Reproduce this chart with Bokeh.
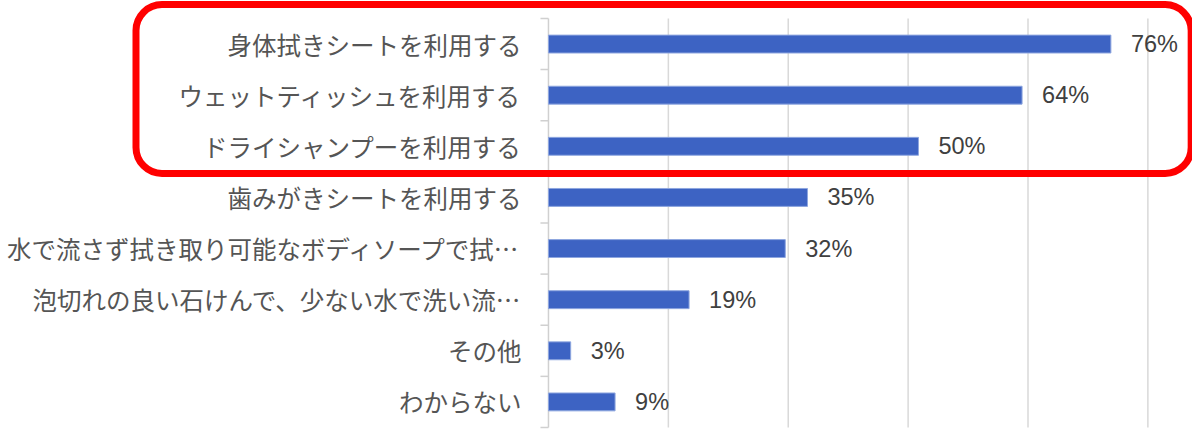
import numpy as np
from bokeh.plotting import figure
from bokeh.models import Range1d, BoxAnnotation, ColumnDataSource
from bokeh.core.properties import value
from bokeh.embed import file_html
from bokeh.resources import INLINE

# ---- data ----
categories = [
    "身体拭きシートを利用する",
    "ウェットティッシュを利用する",
    "ドライシャンプーを利用する",
    "歯みがきシートを利用する",
    "水で流さず拭き取り可能なボディソープで拭…",
    "泡切れの良い石けんで、少ない水で洗い流…",
    "その他",
    "わからない",
]
percent = [76, 64, 50, 35, 32, 19, 3, 9]
grid_ticks = [16.2, 32.4, 48.6, 64.8, 81.0]
highlight_rows = 3

# ---- layout ----
W, H = 1192, 432
n = len(categories)
rows = np.arange(n) + 0.5
bounds = np.arange(n + 1)

src = ColumnDataSource(dict(
    y=rows,
    v=percent,
    cat=categories,
    lab=[f"{v}%" for v in percent],
))

p = figure(width=W, height=H, output_backend="svg", toolbar_location=None,
           x_range=Range1d(-74.05, 87.03), y_range=Range1d(8.098, -0.352),
           min_border=0, outline_line_color=None)
p.axis.visible = False
p.grid.visible = False
p.background_fill_color = "white"
p.border_fill_color = "white"

# gridlines
p.segment(x0=grid_ticks, x1=grid_ticks, y0=0, y1=n, line_color="#D9D9D9", line_width=1.5)
# category axis line and boundary ticks
p.segment(x0=[0], x1=[0], y0=[0], y1=[n], line_color="#D0D0D0", line_width=1.5)
p.ray(x=0, y=bounds, length=8, angle=np.pi, length_units="screen",
      line_color="#D0D0D0", line_width=1.5)

# bars
p.hbar(y="y", left=0, right="v", height=0.35, source=src,
       fill_color="#3D63C3", line_color="#8EA6DF", line_width=1)

# category labels
p.text(x=0, y="y", text="cat", source=src, x_offset=-27,
       text_align="right", text_baseline="middle",
       text_font=value("Noto Sans CJK JP"), text_font_size="24.5px",
       text_color="#555555")

# value labels
p.text(x="v", y="y", text="lab", source=src, x_offset=20,
       text_align="left", text_baseline="middle",
       text_font=value("Liberation Sans"), text_font_size="23.5px",
       text_color="#404040")

# red highlight frame
box = BoxAnnotation(left=-55.74, right=86.85, top=-0.272, bottom=highlight_rows + 0.03,
                    fill_alpha=0, line_color="#FF0000", line_alpha=1.0, line_width=7,
                    border_radius=26)
p.add_layout(box)

open("out.html", "w").write(file_html(p, INLINE))
